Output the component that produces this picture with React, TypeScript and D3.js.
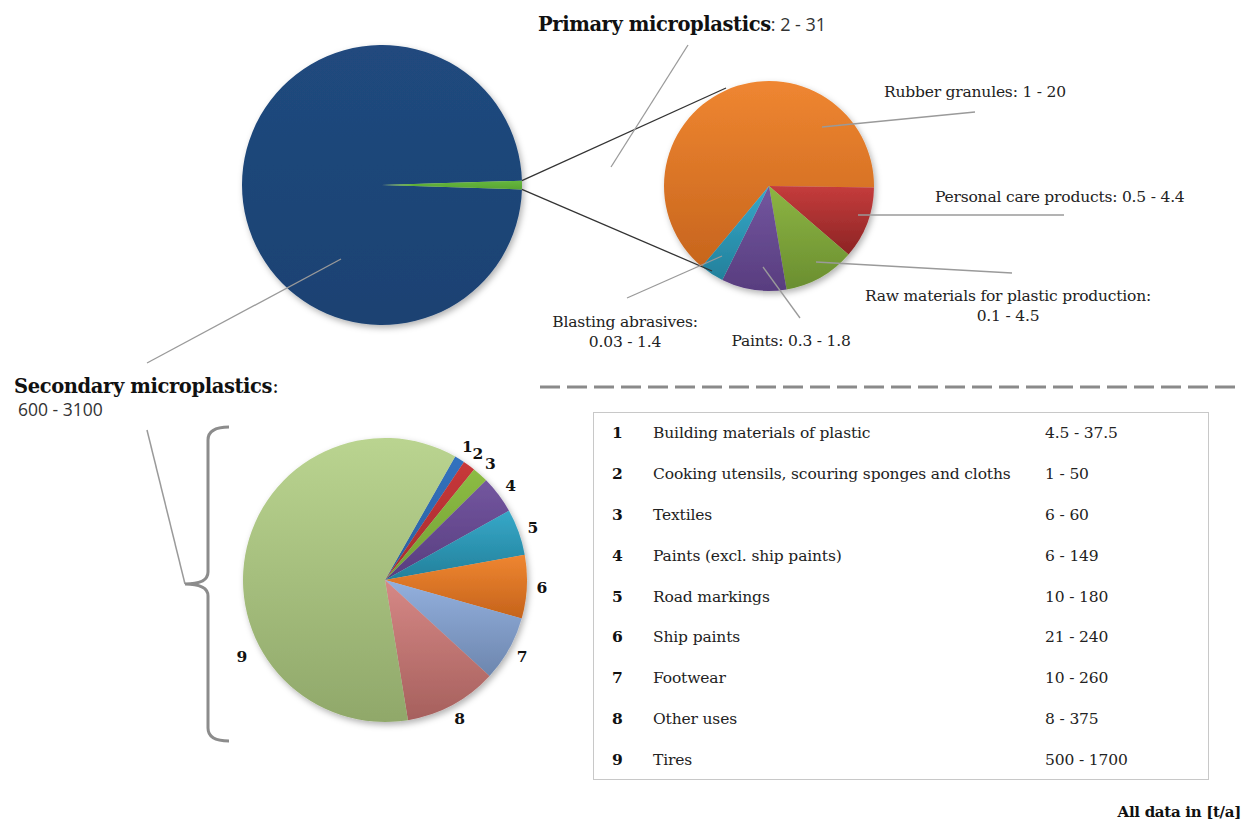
import React from 'react';
import * as d3 from 'd3';

// overview pie: secondary vs primary (upper estimates, t/a)
const overviewLabels = ['Secondary microplastics', 'Primary microplastics'];
const overviewRanges = ['600 - 3100', '2 - 31'];
const overviewMax = [3100, 31];

// primary microplastics breakdown
const primaryLabels = ['Rubber granules', 'Personal care products', 'Raw materials for plastic production', 'Paints', 'Blasting abrasives'];
const primaryRanges = ['1 - 20', '0.5 - 4.4', '0.1 - 4.5', '0.3 - 1.8', '0.03 - 1.4'];
const primaryShares = [64.2, 11.1, 11.0, 10.0, 3.7];

// secondary microplastics breakdown
const secondaryIds = [1, 2, 3, 4, 5, 6, 7, 8, 9];
const secondaryLabels = [
  'Building materials of plastic',
  'Cooking utensils, scouring sponges and cloths',
  'Textiles',
  'Paints (excl. ship paints)',
  'Road markings',
  'Ship paints',
  'Footwear',
  'Other uses',
  'Tires',
];
const secondaryLow = [4.5, 1, 6, 6, 10, 21, 10, 8, 500];
const secondaryHigh = [37.5, 50, 60, 149, 180, 240, 260, 375, 1700];

const overviewColors = [['#20497e', '#1c4272'], ['#66b83e', '#58a533']];
const primaryColors = [
  ['#ef8631', '#c7651d'],
  ['#c53c3c', '#8c2424'],
  ['#8db543', '#6a8e30'],
  ['#73569f', '#583d7f'],
  ['#36a8c8', '#23809b'],
];
const secondaryColors = [
  ['#3272bf', '#2a5f9f'],
  ['#c8383a', '#a52c2e'],
  ['#8cbc44', '#74a034'],
  ['#73569f', '#583d7f'],
  ['#36a8c8', '#23809b'],
  ['#ef8631', '#c5631b'],
  ['#93b0de', '#6d86ae'],
  ['#d68886', '#a6605d'],
  ['#bad490', '#90a86a'],
];

const SERIF = "'DejaVu Serif', 'Liberation Serif', serif";
const SANS = "'Open Sans', 'Liberation Sans', sans-serif";
const deg = Math.PI / 180;
const GREY = '#9a9a9a';

const big = { cx: 382, cy: 185, r: 140, start: 91.8 };
const prim = { cx: 769, cy: 186, r: 105, start: 219.7 };
const sec = { cx: 385, cy: 580, r: 142, start: 29.6 };

const fmt = (v: number) => d3.format('~g')(v);

function polar(cx: number, cy: number, r: number, a: number): [number, number] {
  return [cx + r * Math.sin(a), cy - r * Math.cos(a)];
}

const App: React.FC = () => {
  const pieOf = (startDeg: number) =>
    d3.pie<number>().sort(null).value(d => d).startAngle(startDeg * deg).endAngle(startDeg * deg + 2 * Math.PI);

  const bigArcs = pieOf(big.start)(overviewMax);
  const primArcs = pieOf(prim.start)(primaryShares);
  const secMid = secondaryLow.map((lo, i) => (lo + secondaryHigh[i]) / 2);
  const secArcs = pieOf(sec.start)(secMid);

  const arcBig = d3.arc<d3.PieArcDatum<number>>().innerRadius(0).outerRadius(big.r);
  const arcPrim = d3.arc<d3.PieArcDatum<number>>().innerRadius(0).outerRadius(prim.r);
  const arcSec = d3.arc<d3.PieArcDatum<number>>().innerRadius(0).outerRadius(sec.r);

  // zoom connector from the primary sliver to the detail pie
  const green = bigArcs[1];
  const pTop = polar(big.cx, big.cy, big.r, green.startAngle);
  const pBot = polar(big.cx, big.cy, big.r, green.endAngle);

  // primary label layout
  const primLeaders = [
    [822, 127, 975, 112],
    [858, 215, 1064, 215],
    [816, 262, 1012, 273],
    [763, 267, 800, 318],
    [722, 256, 627, 298],
  ];

  // table rows
  const rowY = d3.scalePoint<number>().domain(secondaryIds).range([433, 760]);

  const secLabelPos = secArcs.map((a, i) => {
    const mid = i === 8 ? 242 * deg : (a.startAngle + a.endAngle) / 2;
    const rr = i === 8 ? 162 : 157;
    return polar(sec.cx, sec.cy, rr, mid);
  });

  return (
    <svg width={1244} height={820} style={{ position: 'absolute', left: 0, top: 0, background: '#fff' }}>
      <defs>
        <filter id="shadow" x="-20%" y="-20%" width="140%" height="140%">
          <feDropShadow dx="2" dy="3" stdDeviation="3" floodColor="#000" floodOpacity="0.3" />
        </filter>
        {[['b', overviewColors], ['p', primaryColors], ['s', secondaryColors]].map(([k, cols]) =>
          (cols as string[][]).map((c, i) => (
            <linearGradient key={`${k}${i}`} id={`g${k}${i}`} x1="0" y1="0" x2="0" y2="1">
              <stop offset="0" stopColor={c[0]} />
              <stop offset="1" stopColor={c[1]} />
            </linearGradient>
          ))
        )}
      </defs>

      {/* overview pie */}
      <g transform={`translate(${big.cx},${big.cy})`} filter="url(#shadow)">
        {bigArcs.map((a, i) => (
          <path key={i} d={arcBig(a) || ''} fill={`url(#gb${i})`} />
        ))}
      </g>

      {/* primary pie */}
      <g transform={`translate(${prim.cx},${prim.cy})`} filter="url(#shadow)">
        {primArcs.map((a, i) => (
          <path key={i} d={arcPrim(a) || ''} fill={`url(#gp${i})`} />
        ))}
      </g>

      {/* secondary pie */}
      <g transform={`translate(${sec.cx},${sec.cy})`} filter="url(#shadow)">
        {secArcs.map((a, i) => (
          <path key={i} d={arcSec(a) || ''} fill={`url(#gs${i})`} />
        ))}
      </g>

      {/* connectors */}
      <line x1={pTop[0]} y1={pTop[1]} x2={726} y2={88} stroke="#333" strokeWidth={1.3} />
      <line x1={pBot[0]} y1={pBot[1]} x2={712} y2={271} stroke="#333" strokeWidth={1.3} />

      {/* leaders */}
      <line x1={688} y1={45} x2={611} y2={167} stroke={GREY} strokeWidth={1.3} />
      <line x1={341} y1={259} x2={147} y2={363} stroke={GREY} strokeWidth={1.3} />
      {primLeaders.map((l, i) => (
        <line key={i} x1={l[0]} y1={l[1]} x2={l[2]} y2={l[3]} stroke={GREY} strokeWidth={1.3} />
      ))}

      {/* bracket */}
      <line x1={147} y1={430} x2={185} y2={584} stroke={GREY} strokeWidth={1.5} />
      <path
        d="M229,427 Q208,427 208,440 L208,572 Q208,584 185,584 Q208,584 208,596 L208,728 Q208,741 229,741"
        fill="none" stroke="#8c8c8c" strokeWidth={3}
      />

      {/* titles */}
      <text x={538} y={31} fontFamily={SERIF} fontSize={19.5} fontWeight="bold" fill="#111" letterSpacing={-0.4}>
        {overviewLabels[1]}
        <tspan fontFamily={SANS} fontWeight="normal" fontSize={18} fill="#333" letterSpacing={0}>: {overviewRanges[1]}</tspan>
      </text>
      <text x={14} y={393} fontFamily={SERIF} fontSize={19.5} fontWeight="bold" fill="#111" letterSpacing={-0.4}>
        {overviewLabels[0]}
        <tspan fontWeight="normal">:</tspan>
      </text>
      <text x={18} y={416} fontFamily={SANS} fontSize={17.5} fill="#333">{overviewRanges[0]}</text>

      {/* primary labels */}
      <g fontFamily={SERIF} fontSize={15.5} fill="#222" letterSpacing={-0.2}>
        <text x={884} y={97}>{primaryLabels[0]}: {primaryRanges[0]}</text>
        <text x={935} y={202}>{primaryLabels[1]}: {primaryRanges[1]}</text>
        <text x={1008} y={301} textAnchor="middle">{primaryLabels[2]}:</text>
        <text x={1008} y={321} textAnchor="middle">{primaryRanges[2]}</text>
        <text x={791} y={346} textAnchor="middle">{primaryLabels[3]}: {primaryRanges[3]}</text>
        <text x={625} y={327} textAnchor="middle">{primaryLabels[4]}:</text>
        <text x={625} y={347} textAnchor="middle">{primaryRanges[4]}</text>
      </g>

      {/* secondary pie numbers */}
      <g fontFamily={SERIF} fontSize={15.5} fontWeight="bold" fill="#111" textAnchor="middle">
        {secLabelPos.map((p, i) => (
          <text key={i} x={p[0]} y={p[1]} dominantBaseline="central">{secondaryIds[i]}</text>
        ))}
      </g>

      {/* divider */}
      <line x1={540} y1={387} x2={1242} y2={387} stroke="#8a8a8a" strokeWidth={3} strokeDasharray="20,7" />

      {/* table */}
      <rect x={593.5} y={412.5} width={615} height={367} fill="none" stroke="#c8c8c8" strokeWidth={1} />
      <g fontFamily={SERIF} fontSize={15.5} fill="#222" letterSpacing={-0.15}>
        {secondaryIds.map((id, i) => {
          const y = (rowY(id) || 0) + 5;
          return (
            <g key={id}>
              <text x={612} y={y} fontWeight="bold" fill="#111">{id}</text>
              <text x={653} y={y}>{secondaryLabels[i]}</text>
              <text x={1045} y={y}>{fmt(secondaryLow[i])} - {fmt(secondaryHigh[i])}</text>
            </g>
          );
        })}
      </g>

      <text x={1241} y={817} textAnchor="end" fontFamily={SERIF} fontSize={15} fontWeight="bold" fill="#111" letterSpacing={-0.3}>
        All data in [t/a]
      </text>
    </svg>
  );
};

export default App;
